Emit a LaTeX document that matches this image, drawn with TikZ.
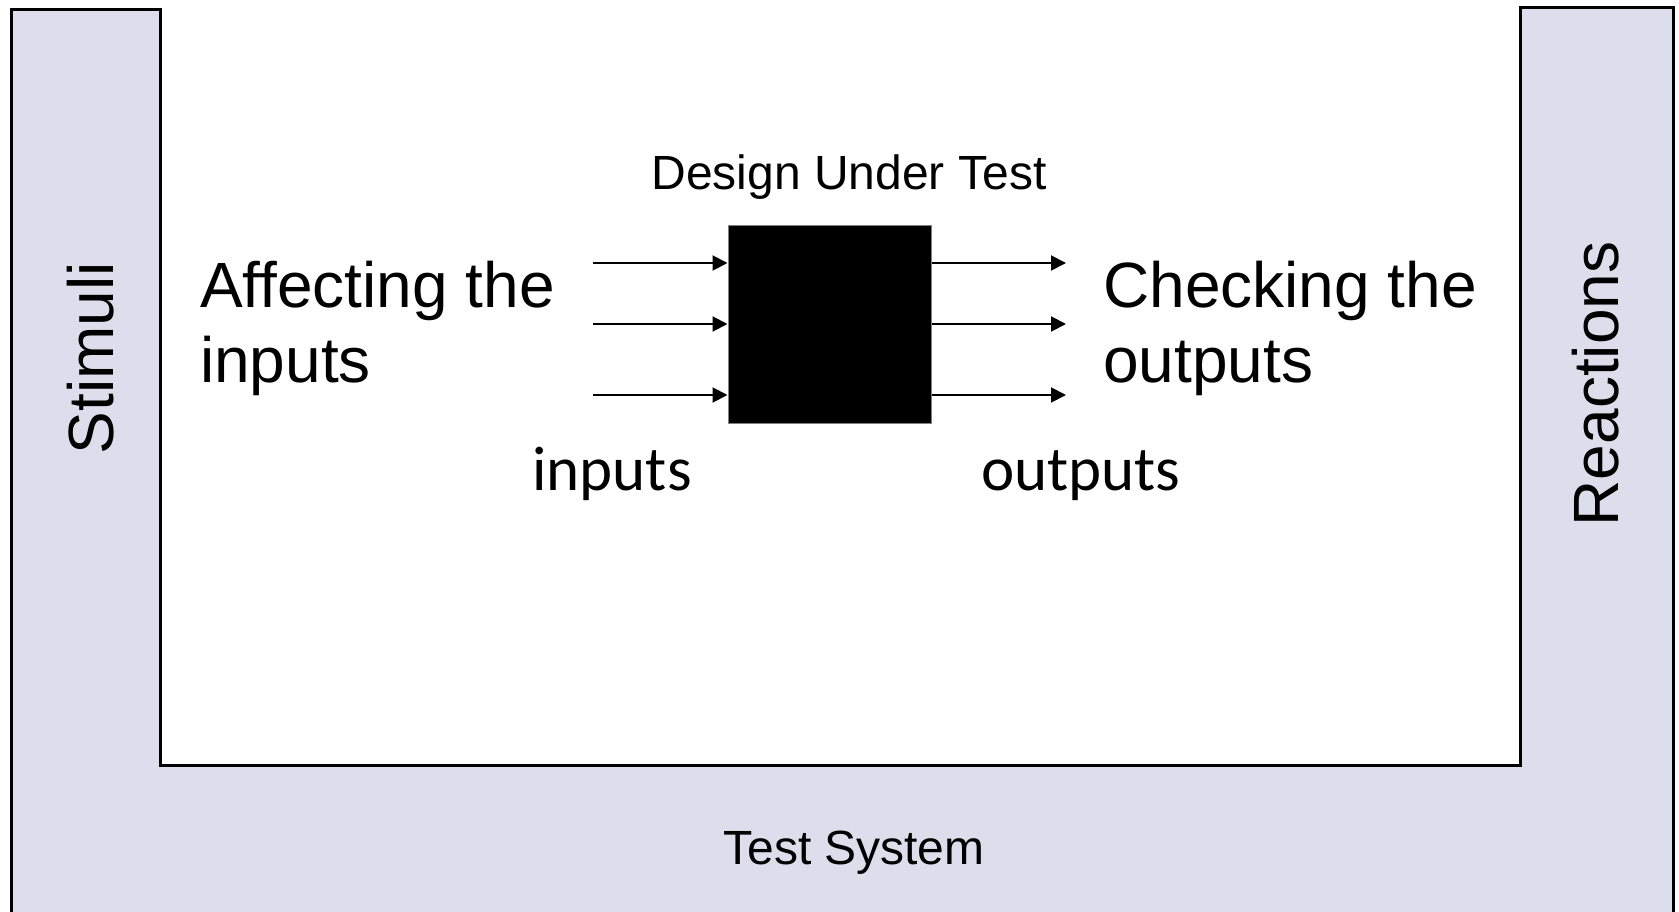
\documentclass[tikz,border=0pt]{standalone}
\usepackage{fontspec}
\setmainfont{Liberation Sans}
\newfontfamily\calibri{Carlito}
\usetikzlibrary{arrows.meta}
\definecolor{tsfill}{RGB}{221,221,235}
\begin{document}
\begin{tikzpicture}[x=1pt,y=-1pt,
  bigtext/.style={font=\fontsize{64}{75}\selectfont, inner sep=0pt, align=left},
  midtext/.style={font=\fontsize{48}{56}\selectfont, inner sep=0pt},
  sidetext/.style={font=\fontsize{64}{75}\selectfont, inner sep=0pt, rotate=90, anchor=base},
  portlabel/.style={font=\calibri\fontsize{63}{75}\selectfont, inner sep=0pt, anchor=base},
  sig/.style={line width=2pt, -{Triangle[length=15pt,width=15pt]}}]
\useasboundingbox (0,0) rectangle (1679,912);
% test system U-shape
\filldraw[fill=tsfill, draw=black, line width=3pt]
  (11,10) -- (160,10) -- (160,765) -- (1520,765) -- (1520,8) -- (1673,8)
  -- (1673,930) -- (11,930) -- cycle;
% design under test
\node[draw=gray, fill=black, line width=1pt, minimum width=203pt, minimum height=197pt, inner sep=0pt] (dut) at (829.5,324.5) {};
\node[midtext, anchor=base] (dutlabel) at (849,190) {Design Under Test};
% inputs
\coordinate (i1) at (593,263);
\coordinate (i2) at (593,324);
\coordinate (i3) at (593,395);
\draw[sig] (i1) -- (dut.west |- i1);
\draw[sig] (i2) -- (dut.west |- i2);
\draw[sig] (i3) -- (dut.west |- i3);
% outputs
\coordinate (o1) at (1066,263);
\coordinate (o2) at (1066,324);
\coordinate (o3) at (1066,395);
\draw[sig] (dut.east |- o1) -- (o1);
\draw[sig] (dut.east |- o2) -- (o2);
\draw[sig] (dut.east |- o3) -- (o3);
% texts
\node[bigtext, anchor=base west] (affect) at (200,382) {Affecting the\\inputs};
\node[bigtext, anchor=base west] (check) at (1103,382) {Checking the\\outputs};
\node[portlabel] (inlabel) at (612,490) {inputs};
\node[portlabel] (outlabel) at (1081,490) {outputs};
\node[sidetext] (stim) at (113,358) {Stimuli};
\node[sidetext] (react) at (1618,384) {Reactions};
\node[midtext, anchor=base] (tsys) at (854,864) {Test System};
\end{tikzpicture}
\end{document}
